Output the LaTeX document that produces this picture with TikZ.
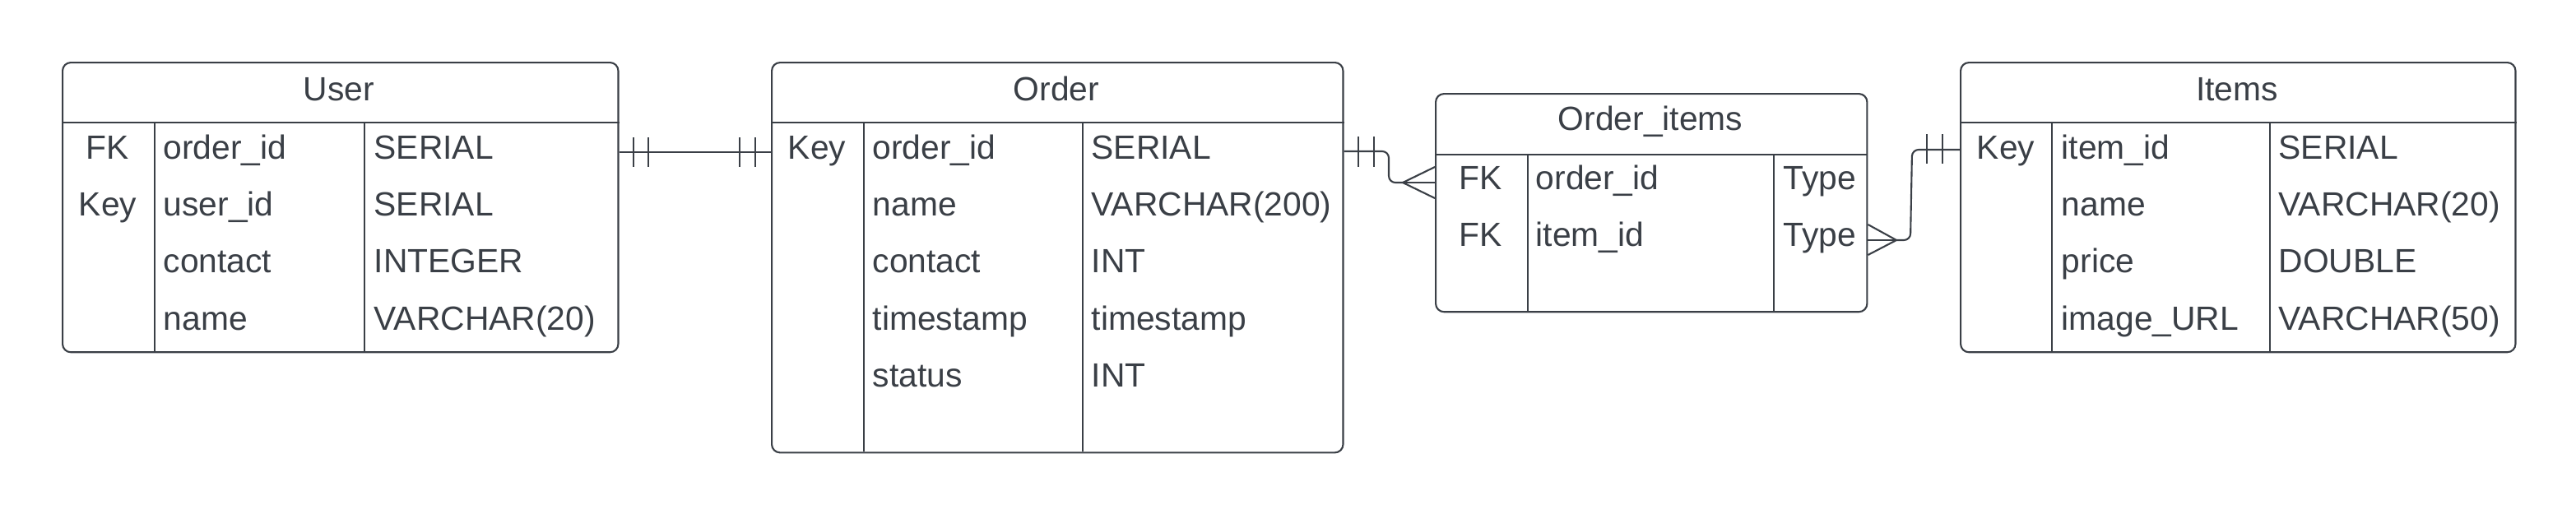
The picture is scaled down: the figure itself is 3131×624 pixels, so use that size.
\documentclass[tikz,border=0pt]{standalone}
\usepackage{fontspec}
\setmainfont{Liberation Sans}
\usetikzlibrary{calc}
\definecolor{ink}{HTML}{3A3F46}

\tikzset{
  tbl/.style={draw=ink, line width=0.6pt, rounded corners=0.1cm, inner sep=0pt, anchor=north west},
  sep/.style={draw=ink, line width=0.5pt},
  lnk/.style={draw=ink, line width=0.6pt, rounded corners=0.08cm},
  bar/.style={draw=ink, line width=0.6pt},
  txt/.style={text=ink, font=\fontsize{11.6}{14}\selectfont, inner sep=0pt, anchor=base west},
  ttl/.style={txt, anchor=base},
}

\begin{document}
\begin{tikzpicture}[x=0.01cm, y=-0.01cm]
\useasboundingbox (0,0) rectangle (3131,624);
% tables
\node[tbl, minimum width=6.75cm, minimum height=3.52cm] (user) at (75,75) {};
\node[tbl, minimum width=6.94cm, minimum height=4.74cm] (order) at (937,75) {};
\node[tbl, minimum width=5.24cm, minimum height=2.65cm] (oitems) at (1744,113) {};
\node[tbl, minimum width=6.74cm, minimum height=3.52cm] (items) at (2382,75) {};
% header lines and columns
\draw[sep] (user.west |- 0,149) -- (user.east |- 0,149);
\draw[sep] (order.west |- 0,149) -- (order.east |- 0,149);
\draw[sep] (oitems.west |- 0,188) -- (oitems.east |- 0,188);
\draw[sep] (items.west |- 0,149) -- (items.east |- 0,149);
\foreach \x in {188,443} \draw[sep] (\x,149) -- (\x,427);
\foreach \x in {1050,1316} \draw[sep] (\x,149) -- (\x,549);
\foreach \x in {1857,2156} \draw[sep] (\x,188) -- (\x,378);
\foreach \x in {2494,2759} \draw[sep] (\x,149) -- (\x,427);
% titles
\node[ttl] (user-t) at (412,122) {User};
\node[ttl] (order-t) at (1284,122) {Order};
\node[ttl] (oitems-t) at (2006,158) {Order\_items};
\node[ttl] (items-t) at (2719,122) {Items};
% rows
\foreach \k/\f/\t [count=\i from 0] in {FK/order\_id/SERIAL, Key/user\_id/SERIAL, /contact/INTEGER, /name/VARCHAR(20)}{
  \node[ttl] (user-k\i) at (131,{193+69.4*\i}) {\k};
  \node[txt] (user-f\i) at (198,{193+69.4*\i}) {\f};
  \node[txt] (user-y\i) at (454,{193+69.4*\i}) {\t};
}
\foreach \k/\f/\t [count=\i from 0] in {Key/order\_id/SERIAL, /name/VARCHAR(200), /contact/INT, /timestamp/timestamp, /status/INT}{
  \node[ttl] (order-k\i) at (993,{193+69.4*\i}) {\k};
  \node[txt] (order-f\i) at (1060,{193+69.4*\i}) {\f};
  \node[txt] (order-y\i) at (1326,{193+69.4*\i}) {\t};
}
\foreach \k/\f/\t [count=\i from 0] in {FK/order\_id/Type, FK/item\_id/Type}{
  \node[ttl] (oitems-k\i) at (1800,{230+69.4*\i}) {\k};
  \node[txt] (oitems-f\i) at (1866,{230+69.4*\i}) {\f};
  \node[txt] (oitems-y\i) at (2167,{230+69.4*\i}) {\t};
}
\foreach \k/\f/\t [count=\i from 0] in {Key/item\_id/SERIAL, /name/VARCHAR(20), /price/DOUBLE, /image\_URL/VARCHAR(50)}{
  \node[ttl] (items-k\i) at (2438,{193+69.4*\i}) {\k};
  \node[txt] (items-f\i) at (2505,{193+69.4*\i}) {\f};
  \node[txt] (items-y\i) at (2769,{193+69.4*\i}) {\t};
}
% links
\coordinate (uo) at (user.east |- 0,185);
\coordinate (ou) at (order.west |- 0,185);
\draw[lnk] (uo) -- (ou);
\foreach \x in {770,788,899,918} \draw[bar] (\x,167) -- (\x,203);

\coordinate (oo) at (order.east |- 0,184);
\coordinate (oi) at (oitems.west |- 0,222);
\coordinate (f1) at (1705,222);
\draw[lnk] (oo) -- (1688,184) -- (1688,222) -- (f1);
\draw[bar] (f1) -- (oi);
\draw[bar] (oi |- 0,203) -- (f1) -- (oi |- 0,241);
\foreach \x in {1651,1670} \draw[bar] (\x,166) -- (\x,203);

\coordinate (io) at (oitems.east |- 0,292);
\coordinate (ii) at (items.west |- 0,182);
\coordinate (f2) at (2305,292);
\draw[lnk] (ii) -- (2324,182) -- (2322,292) -- (f2);
\draw[bar] (f2) -- (io);
\draw[bar] (io |- 0,273) -- (f2) -- (io |- 0,310);
\foreach \x in {2342,2361} \draw[bar] (\x,163) -- (\x,199);
\end{tikzpicture}
\end{document}
